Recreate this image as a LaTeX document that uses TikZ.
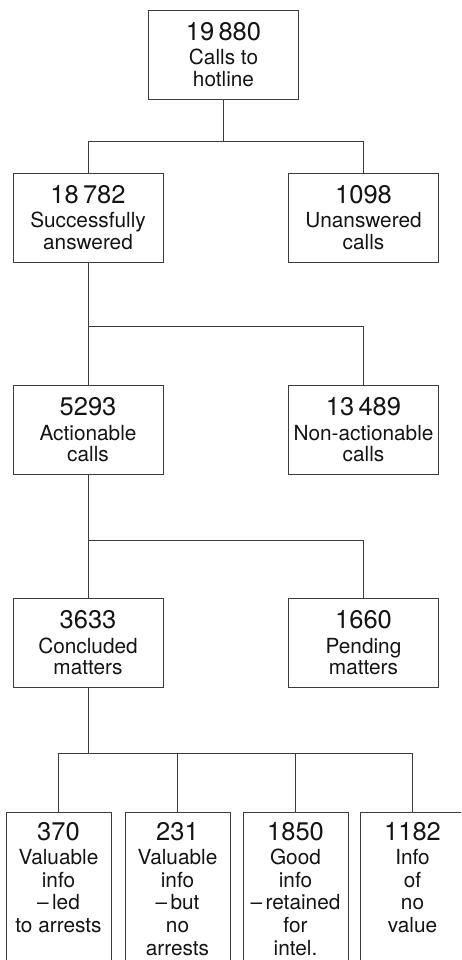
\documentclass[tikz,border=0pt]{standalone}
\usepackage{fontspec}
\setmainfont{TeX Gyre Heros}
\usetikzlibrary{positioning}
\definecolor{lineG}{RGB}{60,60,60}
\definecolor{txtK}{RGB}{20,20,20}
\newcommand{\bignum}[1]{{\fontsize{25.5}{26}\selectfont #1}}

\begin{document}
\begin{tikzpicture}[x=1pt,y=-1pt,font=\fontsize{20.8}{21.5}\selectfont]
  \tikzset{box/.style={draw=lineG,line width=0.9pt,text=txtK,align=center,minimum width=150pt,minimum height=89pt,inner sep=0pt},
    leaf/.style={draw=lineG,line width=0.9pt,text=txtK,align=center,anchor=north,minimum width=105pt,inner xsep=0pt,inner ysep=10pt,font=\fontsize{20.8}{22.8}\selectfont},
    link/.style={draw=lineG,line width=0.9pt}}
  \useasboundingbox (0,0) rectangle (461,960);
  \clip (0,0) rectangle (461,960);
  % tree of calls, one level per row
  \node[box] (calls) at (223.5,54.5) {\bignum{19\,880}\\[3pt]Calls to\\hotline};
  \node[box] (answered) at (88,217.5) {\bignum{18\,782}\\[3pt]Successfully\\answered};
  \node[box] (unanswered) at (363.5,217.5) {\bignum{1098}\\[3pt]Unanswered\\calls};
  \node[box] (action) at (88,430) {\bignum{5293}\\[3pt]Actionable\\calls};
  \node[box] (nonaction) at (363.5,430) {\bignum{13\,489}\\[3pt]Non-actionable\\calls};
  \node[box] (concluded) at (88,643) {\bignum{3633}\\[3pt]Concluded\\matters};
  \node[box] (pending) at (363.5,643) {\bignum{1660}\\[3pt]Pending\\matters};
  % outcomes, cut off at the foot of the page
  \node[leaf] (arrests) at (58.5,812) {\bignum{370}\\[1pt]Valuable\\info\\--\,led\\to arrests\rule[-50pt]{0pt}{50pt}};
  \node[leaf] (noarrests) at (177.5,812) {\bignum{231}\\[1pt]Valuable\\info\\--\,but\\no\\arrests\rule[-50pt]{0pt}{50pt}};
  \node[leaf] (intel) at (295.5,812) {\bignum{1850}\\[1pt]Good\\info\\--\,retained\\for\\intel.\rule[-50pt]{0pt}{50pt}};
  \node[leaf] (novalue) at (412.5,812) {\bignum{1182}\\[1pt]Info\\of\\no\\value\rule[-50pt]{0pt}{50pt}};
  \draw[link] (calls.south) -- ++(0,42) coordinate (j1);
  \draw[link] (answered.north) |- (j1) -| (unanswered.north);
  \draw[link] (answered.south) -- ++(0,64) coordinate (j2);
  \draw[link] (action.north) |- (j2) -| (nonaction.north);
  \draw[link] (action.south) -- ++(0,65) coordinate (j3);
  \draw[link] (concluded.north) |- (j3) -| (pending.north);
  \draw[link] (concluded.south) -- ++(0,65) coordinate (j4);
  \draw[link] (arrests.north) |- (j4) -| (novalue.north);
  \draw[link] (noarrests.north) -- (noarrests.north |- j4);
  \draw[link] (intel.north) -- (intel.north |- j4);
\end{tikzpicture}
\end{document}
